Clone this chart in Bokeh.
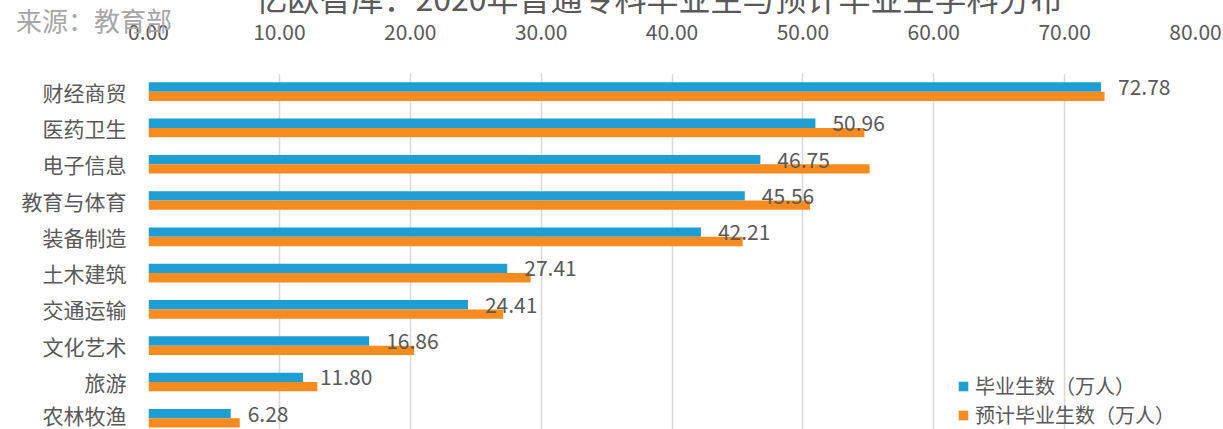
from bokeh.plotting import figure
from bokeh.models import (ColumnDataSource, Range1d, FixedTicker, SingleIntervalTicker,
                          NumeralTickFormatter, Legend, LegendItem, LinearAxis, Div)
from bokeh.layouts import column
from bokeh.transform import dodge
from bokeh.core.properties import value
from bokeh.embed import file_html
from bokeh.resources import INLINE

# ---- data ----
categories = ["财经商贸", "医药卫生", "电子信息", "教育与体育", "装备制造",
              "土木建筑", "交通运输", "文化艺术", "旅游", "农林牧渔"]
graduates = [72.78, 50.96, 46.75, 45.56, 42.21, 27.41, 24.41, 16.86, 11.80, 6.28]
expected = [73.05, 54.70, 55.10, 50.55, 45.40, 29.20, 27.10, 20.30, 12.90, 6.97]
series_names = ["毕业生数（万人）", "预计毕业生数（万人）"]
title_text = "亿欧智库：2020年普通专科毕业生与预计毕业生学科分布"
source_text = "来源：教育部"

FONT = "Noto Sans CJK SC"
TXT = "#595959"
BLUE = "#1F9ED3"
ORANGE = "#F68B1F"

idx = list(range(len(categories)))
src = ColumnDataSource(dict(
    y=idx, cat=categories, g=graduates, e=expected,
    lbl=[f"{v:.2f}" for v in graduates],
))

fig = figure(width=1223, height=429, output_backend="svg", toolbar_location=None,
             x_range=Range1d(0, 80), y_range=Range1d(len(categories) - 0.69, -0.5),
             x_axis_location=None, y_axis_location="left",
             min_border_left=148, min_border_right=28, min_border_top=73,
             min_border_bottom=0)
fig.outline_line_color = None
fig.background_fill_color = "white"
fig.border_fill_color = "white"

bw = 0.257
r1 = fig.hbar(y=dodge("y", -bw / 2), right="g", left=0, height=bw, source=src,
              fill_color=BLUE, line_color=None)
r2 = fig.hbar(y=dodge("y", bw / 2), right="e", left=0, height=bw, source=src,
              fill_color=ORANGE, line_color=None)

fig.text(x="g", y=dodge("y", -bw / 2), text="lbl", source=src, x_offset=17,
         text_align="left", text_baseline="middle", text_font=value(FONT),
         text_font_size="21px", text_color=TXT)

# top axis
xa = LinearAxis(ticker=SingleIntervalTicker(interval=10),
                formatter=NumeralTickFormatter(format="0.00"))
xa.axis_line_color = None
xa.major_tick_line_color = None
xa.minor_tick_line_color = None
xa.major_label_standoff = 28
xa.major_label_text_font = FONT
xa.major_label_text_font_size = "21px"
xa.major_label_text_color = TXT
fig.add_layout(xa, "above")

ya = fig.yaxis[0]
ya.ticker = FixedTicker(ticks=idx)
ya.major_label_overrides = {i: c for i, c in zip(idx, categories)}
ya.axis_line_color = None
ya.major_tick_line_color = None
ya.minor_tick_line_color = None
ya.major_label_standoff = 16
ya.major_label_text_font = FONT
ya.major_label_text_font_size = "21px"
ya.major_label_text_color = TXT

fig.ygrid.grid_line_color = None
fig.xgrid.ticker = SingleIntervalTicker(interval=10)
fig.xgrid.grid_line_color = "#D9D9D9"
fig.xgrid.grid_line_width = 1.6

legend = Legend(items=[LegendItem(label=series_names[0], renderers=[r1]),
                       LegendItem(label=series_names[1], renderers=[r2])],
                location=(809, 0), orientation="vertical",
                glyph_width=12, glyph_height=12, label_standoff=6,
                spacing=0, padding=0, margin=0,
                border_line_color=None, background_fill_alpha=0,
                label_text_font=FONT, label_text_font_size="20px",
                label_text_color=TXT)
fig.add_layout(legend, "center")

header_html = (
    f'<span style="position:absolute;left:16px;top:7px;font-family:\'{FONT}\';'
    f'font-size:26px;line-height:26px;color:#A6A6A6;white-space:nowrap;">{source_text}</span>'
    f'<span style="position:absolute;left:659px;top:-19px;transform:translateX(-50%);'
    f'font-family:\'{FONT}\';font-size:32px;line-height:32px;color:{TXT};'
    f'white-space:nowrap;">{title_text}</span>'
)
header = Div(text=header_html, width=1223, height=40,
             styles={"position": "absolute", "top": "0px", "left": "0px",
                     "z-index": "5", "margin": "0", "padding": "0"})

p = column(fig, header)

open("out.html", "w").write(file_html(p, INLINE))
